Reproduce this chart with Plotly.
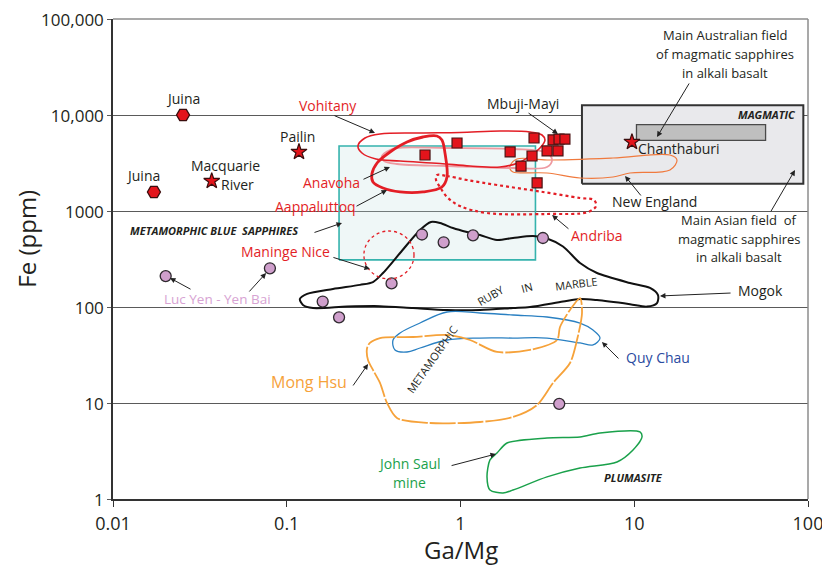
import plotly.graph_objects as go

FONT = "Open Sans"
RED = "#e31e26"
DARK = "#231f20"

# ---------------- point data (Ga/Mg, Fe ppm) ----------------
juina_x = [0.0253, 0.0172]
juina_y = [10000, 1578]

star_x = [0.037, 0.1176, 9.7]          # Macquarie River, Pailin, Chanthaburi
star_y = [2054, 4121, 5235]

square_x = [0.625, 0.955, 1.93, 2.65, 2.58, 2.23, 2.76, 3.15, 3.64, 3.41, 3.69, 3.99]
square_y = [3830, 5110, 4120, 5760, 3740, 2940, 1960, 4220, 4220, 5500, 5620, 5620]

circle_x = [0.0201, 0.080, 0.161, 0.200, 0.401, 0.600, 0.80, 1.18, 2.98, 3.70]
circle_y = [210, 253, 114, 78, 176, 569, 472, 558, 523, 9.8]

# ---------------- fields (rectangles) ----------------
blue_field_x = [0.2, 2.7]
blue_field_y = [310, 4750]
magmatic_x = [5.0, 94]
magmatic_y = [1925, 12600]
australian_x = [10.3, 57]
australian_y = [5450, 7925]
maninge_x = [0.278, 0.540]
maninge_y = [196, 619]

# ---------------- contours ----------------
vohitany_x = [0.257, 0.282, 0.344, 0.585, 0.993, 1.688, 2.512, 2.945, 3.064, 2.868, 2.512, 2.142, 1.688, 1.134, 0.762, 0.449, 0.326, 0.271]
vohitany_y = [4754, 5760, 6340, 6494, 6570, 6812, 6651, 6190, 5490, 4532, 3741, 3162, 2873, 2943, 3125, 3317, 3481, 4020]

anavoha_x = [0.309, 0.331, 0.393, 0.492, 0.608, 0.732, 0.782, 0.814, 0.836, 0.782, 0.608, 0.449, 0.358, 0.3135]
anavoha_y = [2429, 3162, 4117, 5233, 5900, 6043, 5490, 4020, 2260, 1778, 1578, 1578, 1736, 2005]

pink_x = [0.353, 0.393, 0.431, 0.836, 2.005, 3.147, 3.363, 3.147, 2.005, 0.836, 0.431, 0.363]
pink_y = [3741, 4320, 4532, 4532, 4424, 4020, 3398, 2873, 2805, 2943, 3087, 3317]

newengland_x = [1.927, 2.115, 3.147, 7.545, 16.06, 17.62, 16.06, 9.45, 7.545, 4.874, 3.147, 2.005, 1.927]
newengland_y = [2943, 3481, 3398, 3565, 3831, 3398, 2674, 2488, 2260, 2207, 2488, 2548, 2738]

andriba_x = [0.732, 0.836, 1.090, 1.622, 2.868, 4.874, 5.866, 6.024, 5.418, 3.147, 1.421, 0.993, 0.836, 0.762, 0.723]
andriba_y = [2371, 2315, 2103, 1866, 1596, 1366, 1302, 1127, 976, 931, 953, 1127, 1399, 1778, 2103]

ruby_x = [0.119, 0.131, 0.1845, 0.264, 0.3135, 0.358, 0.449, 0.585, 0.676, 0.762, 0.905, 1.090, 1.295, 1.622,
          2.005, 2.614, 3.147, 3.890, 4.874, 6.104, 9.45, 12.32, 13.70, 13.52, 11.84, 9.45, 6.104, 4.874, 3.890,
          2.512, 2.005, 1.295, 0.836, 0.533, 0.344, 0.222, 0.1416, 0.124]
ruby_y = [121, 137, 154, 170, 182, 226, 365, 634, 768, 750, 665, 604, 562, 499,
          524, 549, 517, 427, 287, 226, 178, 158, 133, 110, 101, 107, 118, 121, 114,
          100, 97.6, 93.1, 93.1, 97.6, 102, 101, 97.6, 105]

quychau_x = [0.4198, 0.409, 0.449, 0.585, 0.836, 1.295, 2.005, 3.147, 4.874, 5.79, 6.354, 5.79, 4.874, 3.147, 2.005, 1.295, 0.836, 0.585, 0.492]
quychau_y = [35.7, 45.3, 53.6, 68.1, 88.7, 86.6, 82.5, 78.7, 68.1, 57.6, 47.5, 40.2, 42.2, 47.5, 47.5, 47.5, 45.3, 37.4, 34.0]

monghsu_x = [0.290, 0.301, 0.344, 0.533, 0.836, 1.134, 1.622, 2.512, 3.593, 3.738, 4.268, 4.874, 5.004, 4.683,
             4.268, 3.41, 2.756, 2.005, 1.295, 0.668, 0.431, 0.3776, 0.344, 0.3135, 0.2935]
monghsu_y = [37.4, 42.2, 47.5, 48.7, 51.1, 45.3, 34.0, 35.7, 45.3, 61.9, 93.1, 124, 86.6, 45.3,
             26.1, 16.2, 9.53, 7.15, 6.34, 6.19, 6.98, 10, 16.2, 22.1, 28.1]

johnsaul_x = [1.622, 1.852, 3.147, 4.874, 6.354, 10.79, 11.08, 9.84, 7.956, 4.874, 3.147, 2.005, 1.756, 1.478, 1.421, 1.478]
johnsaul_y = [3.01, 3.83, 4.32, 4.42, 4.87, 4.99, 4.42, 3.24, 2.43, 2.10, 1.70, 1.24, 1.155, 1.24, 1.70, 2.55]

x_ticks = [0.01, 0.1, 1, 10, 100]
x_ticktext = ["0.01", "0.1", "1", "10", "100"]
y_ticks = [1, 10, 100, 1000, 10000, 100000]
y_ticktext = ["1", "10", "100", "1000", "10,000", "100,000"]


def closed(xs, ys):
    return list(xs) + [xs[0]], list(ys) + [ys[0]]


def rect(xs, ys):
    return [xs[0], xs[1], xs[1], xs[0], xs[0]], [ys[0], ys[0], ys[1], ys[1], ys[0]]


fig = go.Figure()

# filled fields
bx, by = rect(blue_field_x, blue_field_y)
fig.add_trace(go.Scatter(x=bx, y=by, mode="lines", fill="toself",
                         fillcolor="rgba(190,225,222,0.25)",
                         line=dict(color="#35b3ad", width=1.6), hoverinfo="skip"))
mx, my = rect(magmatic_x, magmatic_y)
fig.add_trace(go.Scatter(x=mx, y=my, mode="lines", fill="toself", fillcolor="#e9e9ec",
                         line=dict(color="#333333", width=2), hoverinfo="skip"))
ax_, ay_ = rect(australian_x, australian_y)
fig.add_trace(go.Scatter(x=ax_, y=ay_, mode="lines", fill="toself", fillcolor="#bfbfbf",
                         line=dict(color="#4a4a4a", width=1.3), hoverinfo="skip"))


def contour(xs, ys, color, width, dash="solid", smooth=1.0):
    cx, cy = closed(xs, ys)
    fig.add_trace(go.Scatter(x=cx, y=cy, mode="lines",
                             line=dict(color=color, width=width, dash=dash, shape="spline", smoothing=smooth),
                             hoverinfo="skip"))


contour(newengland_x, newengland_y, "#f07a3e", 1.2)
contour(pink_x, pink_y, "#ee9aa1", 1.8)
contour(vohitany_x, vohitany_y, RED, 1.6)
contour(anavoha_x, anavoha_y, RED, 2.8)
contour(andriba_x, andriba_y, RED, 2.2, dash="dot")
contour(ruby_x, ruby_y, "#111111", 2.0, smooth=0.8)
contour(quychau_x, quychau_y, "#2a80c2", 1.3)
contour(monghsu_x, monghsu_y, "#f6a23a", 1.8, dash="26px,2px", smooth=0.8)
contour(johnsaul_x, johnsaul_y, "#1aa14b", 1.5, smooth=0.8)

# markers
fig.add_trace(go.Scatter(x=circle_x, y=circle_y, mode="markers",
                         marker=dict(symbol="circle", size=11, color="#cf9fcc",
                                     line=dict(color="#2f2a2f", width=1.3)), hoverinfo="skip"))
fig.add_trace(go.Scatter(x=square_x, y=square_y, mode="markers",
                         marker=dict(symbol="square", size=10, color="#e3141b",
                                     line=dict(color="#4a1414", width=1.2)), hoverinfo="skip"))
fig.add_trace(go.Scatter(x=juina_x, y=juina_y, mode="markers",
                         marker=dict(symbol="hexagon2", size=13, color="#e3141b",
                                     line=dict(color="#3a0d0d", width=1.3)), hoverinfo="skip"))
fig.add_trace(go.Scatter(x=star_x, y=star_y, mode="markers",
                         marker=dict(symbol="star", size=12, color="#e3141b",
                                     line=dict(color="#3a0d0d", width=1.2)), hoverinfo="skip"))

shapes = [
    dict(type="circle", xref="x", yref="y", x0=maninge_x[0], x1=maninge_x[1], y0=maninge_y[0], y1=maninge_y[1],
         line=dict(color=RED, width=1.3, dash="dot"), layer="above"),
    dict(type="line", xref="paper", yref="paper", x0=0, x1=1, y0=1, y1=1, line=dict(color="#8c8c8c", width=1.5)),
    dict(type="line", xref="paper", yref="paper", x0=1, x1=1, y0=0, y1=1, line=dict(color="#8c8c8c", width=1.5)),
]

anns = []


def label(text, lx, ly, color=DARK, size=14, bold=False, italic=False, angle=0, xanchor="center"):
    t = text
    if italic:
        t = "<i>" + t + "</i>"
    if bold:
        t = "<b>" + t + "</b>"
    anns.append(dict(x=lx, y=ly, xref="x", yref="y", text=t, showarrow=False, textangle=angle,
                     xanchor=xanchor, yanchor="middle", font=dict(family=FONT, size=size, color=color)))


def arrow(tx, ty, hx, hy):
    anns.append(dict(x=hx, y=hy, ax=tx, ay=ty, xref="x", yref="y", axref="x", ayref="y", text="",
                     showarrow=True, arrowhead=2, arrowsize=1.1, arrowwidth=1, arrowcolor="#222222",
                     standoff=0, startstandoff=0))


label("Juina", -1.597, 4.177)
label("Juina", -1.827, 3.365)
label("Macquarie", -1.350, 3.469)
label("River", -1.281, 3.281)
label("Pailin", -0.941, 3.771)
label("Vohitany", -0.763, 4.104, color=RED)
label("Mbuji-Mayi", 0.360, 4.125)
label("Anavoha", -0.745, 3.292, color=RED)
label("Aappaluttoq", -0.837, 3.042, color=RED)
label("METAMORPHIC BLUE  SAPPHIRES", -1.419, 2.802, size=11, bold=True, italic=True)
label("Maninge Nice", -1.010, 2.583, color=RED)
label("Luc Yen - Yen Bai", -1.401, 2.083, color="#d7a3d3", size=13.5)
label("Andriba", 0.786, 2.740, color=RED)
label("New England", 1.119, 3.094)
label("Chanthaburi", 1.258, 3.646)
label("MAGMATIC", 1.764, 4.010, size=11, bold=True, italic=True)
label("Main Australian field", 1.522, 4.833, size=13)
label("of magmatic sapphires", 1.522, 4.635, size=13)
label("in alkali basalt", 1.522, 4.4375, size=13)
label("Main Asian field  of", 1.603, 2.906, size=13)
label("magmatic sapphires", 1.603, 2.708, size=13)
label("in alkali basalt", 1.603, 2.521, size=13)
label("Mogok", 1.724, 2.177)
label("RUBY", 0.170, 2.125, size=11, angle=-30)
label("IN", 0.377, 2.208, size=11, angle=-15)
label("MARBLE", 0.670, 2.240, size=11, angle=-7)
label("METAMORPHIC", -0.164, 1.448, size=11, angle=-55)
label("Quy Chau", 1.137, 1.479, color="#2b4b9f")
label("Mong Hsu", -0.872, 1.219, color="#f6a23a", size=16)
label("John Saul", -0.291, 0.375, color="#1aa14b")
label("mine", -0.291, 0.177, color="#1aa14b")
label("PLUMASITE", 0.993, 0.229, size=11, bold=True, italic=True)

arrow(-0.734, 4.0, -0.492, 3.8125)
arrow(0.383, 4.031, 0.561, 3.802)
arrow(-0.567, 3.323, -0.406, 3.458)
arrow(-0.607, 3.042, -0.423, 3.219)
arrow(-0.849, 2.771, -0.682, 2.875)
arrow(-0.740, 2.521, -0.521, 2.396)
arrow(-1.545, 2.177, -1.672, 2.302)
arrow(-1.223, 2.146, -1.119, 2.354)
arrow(0.630, 2.802, 0.527, 2.958)
arrow(1.045, 3.146, 0.947, 3.365)
arrow(1.321, 4.344, 1.131, 3.771)
arrow(1.781, 2.979, 1.925, 3.427)
arrow(1.563, 2.146, 1.148, 2.115)
arrow(0.918, 1.448, 0.814, 1.635)
arrow(-0.624, 1.167, -0.532, 1.406)
arrow(-0.060, 0.344, 0.204, 0.469)

# axis titles placed in paper coordinates
anns.append(dict(x=-0.124, y=0.542, xref="paper", yref="paper", text="Fe (ppm)", showarrow=False,
                 textangle=-90, xanchor="center", yanchor="middle",
                 font=dict(family=FONT, size=24, color=DARK)))
anns.append(dict(x=0.5, y=-0.105, xref="paper", yref="paper", text="Ga/Mg", showarrow=False,
                 xanchor="center", yanchor="middle",
                 font=dict(family=FONT, size=24, color=DARK)))

# the page body adds an 8px offset, so the figure is sized to fit inside 830x575
fig.update_layout(
    width=822, height=567,
    margin=dict(l=105, r=22, t=11, b=76, autoexpand=False),
    paper_bgcolor="white", plot_bgcolor="white",
    showlegend=False,
    font=dict(family=FONT, color=DARK),
    shapes=shapes,
    annotations=anns,
)
fig.update_xaxes(type="log", range=[-2, 2], tickvals=x_ticks, ticktext=x_ticktext, automargin=False,
                 ticklabeloverflow="allow", ticklabelstandoff=2,
                 showgrid=False, zeroline=False, showline=True, linecolor="#333333", linewidth=1.5,
                 ticks="outside", ticklen=6, tickcolor="#333333", tickwidth=1,
                 tickfont=dict(family=FONT, size=18, color=DARK))
fig.update_yaxes(type="log", range=[0, 5], tickvals=y_ticks, ticktext=y_ticktext, automargin=False,
                 ticklabeloverflow="allow", ticklabelshift=1,
                 showgrid=True, gridcolor="#5a5a5a", gridwidth=1, zeroline=False,
                 showline=True, linecolor="#333333", linewidth=1.5,
                 ticks="outside", ticklen=4, tickcolor="#5a5a5a",
                 tickfont=dict(family=FONT, size=17, color=DARK))

fig.write_html("out.html")
